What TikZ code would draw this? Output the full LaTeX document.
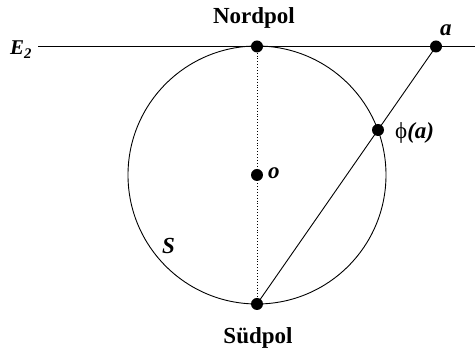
\documentclass[tikz,border=0pt]{standalone}
\usepackage{fontspec}
\setmainfont{Liberation Serif}
\begin{document}
\begin{tikzpicture}[x=1pt,y=-1pt,
  dotpt/.style={circle,fill=black,inner sep=0pt,minimum size=12pt},
  lbl/.style={inner sep=0pt,anchor=base west,font=\fontsize{23}{26}\selectfont\bfseries},
  thinline/.style={line width=0.9pt}]
\useasboundingbox (0,0) rectangle (475,352);
\coordinate (o) at (257,175);
\coordinate (E) at (38,46.5);
\coordinate (Eend) at (475,46.5);
\draw[thinline] (o) circle[radius=129];
\draw[thinline] (E) -- (Eend);
\node[dotpt] (N) at (257,46.5) {};
\node[dotpt] (S) at (257,304) {};
\node[dotpt] (a) at (436,46.5) {};
\node[dotpt] (phi) at (378,130) {};
\node[dotpt] (O) at (257,175) {};
\draw[line width=0.9pt,dotted] (N) -- (S);
\draw[thinline] (S.center) -- (a.center);
\node[lbl,anchor=base] (nordpol) at (254,23.3) {Nordpol};
\node[lbl,anchor=base] (suedpol) at (258,344) {Südpol};
\node[lbl,font=\fontsize{21}{24}\selectfont\bfseries\itshape] (e2) at (10,55) {E\textsubscript{2}};
\node[lbl,font=\fontsize{23}{26}\selectfont\bfseries\itshape] (alab) at (440,35.5) {a};
\node[lbl] (philab) at (395,139) {\fontsize{23}{26}\selectfont\mdseries ϕ\bfseries\itshape(a)};
\node[lbl,font=\fontsize{23}{26}\selectfont\bfseries\itshape] (olab) at (268,179) {o};
\node[lbl,font=\fontsize{23}{26}\selectfont\bfseries\itshape] (slab) at (162,254) {S};
\end{tikzpicture}
\end{document}
